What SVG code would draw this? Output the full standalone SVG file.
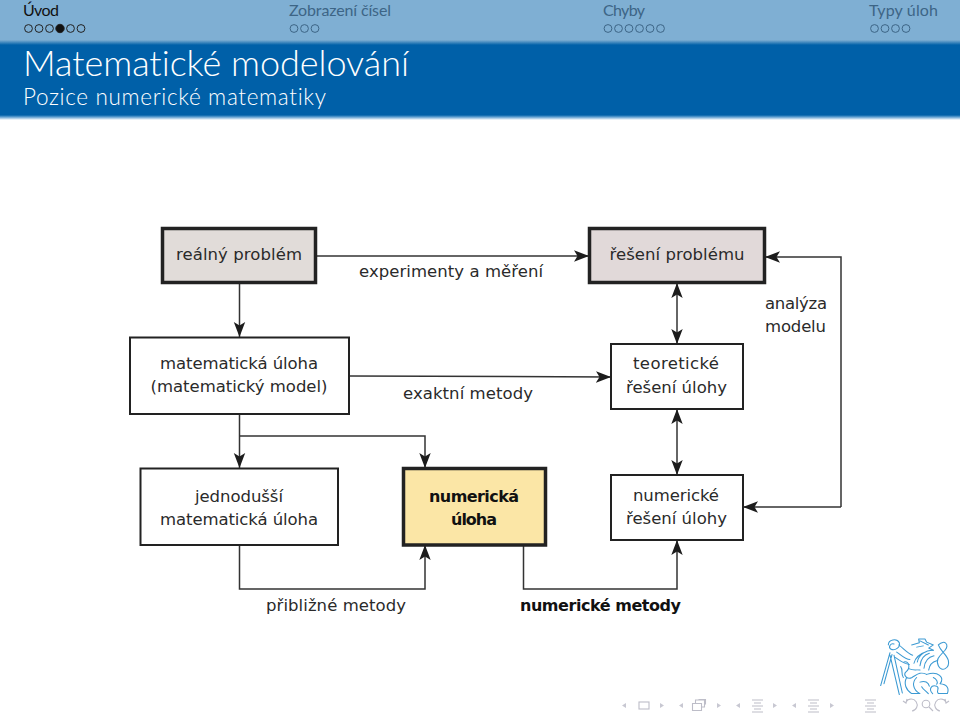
<svg xmlns="http://www.w3.org/2000/svg" width="960" height="716" viewBox="0 0 960 716">
<style>
text{font-variant-ligatures:none}
.t{font-family:"DejaVu Sans",sans-serif;font-size:16.5px;fill:#2a2a2a;text-anchor:middle}
.b{font-weight:bold;font-size:16px;fill:#111}
.l{text-anchor:start}
.box{fill:#fff;stroke:#222;stroke-width:2}
.thick{stroke-width:3.5}
.c{fill:none;stroke:#333;stroke-width:1.5}
.h{font-family:"Lato","Open Sans",sans-serif}
.nav{font-size:16px;fill:#3d6586}
.dot{fill:none;stroke:#3d6586;stroke-width:1}
.logo{fill:none;stroke:#3c9ad3;stroke-width:3.2;stroke-linecap:round;stroke-linejoin:round}
.ni{fill:none;stroke:#bdbdc8;stroke-width:1.1}
.nf{fill:#c8c8d2}
</style>
<defs>
<linearGradient id="g1" x1="0" y1="0" x2="0" y2="1"><stop offset="0" stop-color="#7fafd3"/><stop offset="1" stop-color="#0060a8"/></linearGradient>
<linearGradient id="g2" x1="0" y1="0" x2="0" y2="1"><stop offset="0" stop-color="#0060a8"/><stop offset=".4" stop-color="#5f9fd0"/><stop offset="1" stop-color="#fff"/></linearGradient>
<marker id="a" markerUnits="userSpaceOnUse" markerWidth="16" markerHeight="16" refX="15" refY="8" viewBox="0 0 16 16" orient="auto-start-reverse"><path d="M0,2.300 L15,8 L0,13.700 L3.500,8 Z" fill="#1c1c1c"/></marker>
</defs>
<rect width="960" height="716" fill="#fff"/>
<g id="header">
<rect width="960" height="40" fill="#7fafd3"/>
<rect y="40" width="960" height="5" fill="url(#g1)"/>
<rect y="45" width="960" height="70" fill="#0060a8"/>
<rect y="115" width="960" height="5" fill="url(#g2)"/>
<text class="h" x="23" y="16" font-size="16" fill="#111" textLength="36">Úvod</text>
<text class="h nav" x="289" y="16" textLength="102">Zobrazení čísel</text>
<text class="h nav" x="603" y="16" textLength="42">Chyby</text>
<text class="h nav" x="869" y="16" textLength="69">Typy úloh</text>
<g class="dot" style="stroke:#222"><circle cx="28.5" cy="28.5" r="3.9"/><circle cx="39" cy="28.5" r="3.9"/><circle cx="49.5" cy="28.5" r="3.9"/><circle cx="60" cy="28.5" r="4.2" fill="#111"/><circle cx="70.5" cy="28.5" r="3.9"/><circle cx="81" cy="28.500" r="3.9"/></g>
<g class="dot"><circle cx="294" cy="28.5" r="3.9"/><circle cx="304.5" cy="28.5" r="3.9"/><circle cx="315" cy="28.5" r="3.9"/>
<circle cx="608" cy="28.5" r="3.9"/><circle cx="618.5" cy="28.5" r="3.9"/><circle cx="629" cy="28.5" r="3.9"/><circle cx="639.5" cy="28.5" r="3.9"/><circle cx="650" cy="28.5" r="3.9"/><circle cx="660.5" cy="28.5" r="3.9"/>
<circle cx="874.5" cy="28.5" r="3.9"/><circle cx="885" cy="28.5" r="3.9"/><circle cx="895.5" cy="28.5" r="3.9"/><circle cx="906" cy="28.5" r="3.9"/></g>
<text class="h" x="23" y="76" font-size="36" font-weight="300" fill="#fff" textLength="386">Matematické modelování</text>
<text class="h" x="23" y="105" font-size="22.500" font-weight="300" fill="#fff" textLength="303">Pozice numerické matematiky</text>
</g>
<g id="connectors">
<path class="c" d="M316,256H589" marker-end="url(#a)"/>
<path class="c" d="M239.5,283V337" marker-end="url(#a)"/>
<path class="c" d="M349,376L611,377" marker-end="url(#a)"/>
<path class="c" d="M677,283V344" marker-start="url(#a)" marker-end="url(#a)"/>
<path class="c" d="M677,409V475" marker-start="url(#a)" marker-end="url(#a)"/>
<path class="c" d="M841,507V257H765" marker-end="url(#a)"/>
<path class="c" d="M841,507H743" marker-end="url(#a)"/>
<path class="c" d="M239.5,414V468" marker-end="url(#a)"/>
<path class="c" d="M239.5,436H425V468" marker-end="url(#a)"/>
<path class="c" d="M239.5,545V589H425V545" marker-end="url(#a)"/>
<path class="c" d="M523.5,545V589H677V540" marker-end="url(#a)"/>
</g>
<g id="realny-problem"><rect class="box thick" x="162.5" y="228.5" width="153" height="54" style="fill:#e1dcd9"/><text class="t" x="239" y="260" textLength="126">reálný problém</text></g>
<g id="reseni-problemu"><rect class="box thick" x="589.5" y="228.5" width="175" height="54" style="fill:#e1d9d9"/><text class="t" x="677" y="260" textLength="135">řešení problému</text></g>
<g id="matematicka-uloha"><rect class="box" x="130" y="337.5" width="219" height="76.5"/><text class="t" x="239" y="369" textLength="158">matematická úloha</text><text class="t" x="239" y="392" textLength="177">(matematický model)</text></g>
<g id="teoreticke-reseni"><rect class="box" x="611" y="344" width="132" height="65"/><text class="t" x="676" y="369" textLength="86">teoretické</text><text class="t" x="676.5" y="393" textLength="101">řešení úlohy</text></g>
<g id="jednodussi-uloha"><rect class="box" x="140.5" y="468.5" width="197.5" height="76.5"/><text class="t" x="239" y="502" textLength="88">jednodušší</text><text class="t" x="239" y="525" textLength="158">matematická úloha</text></g>
<g id="numericka-uloha"><rect class="box thick" x="403.5" y="468.5" width="142" height="76.5" style="fill:#fbe6a6"/><text class="t b" x="474" y="502" textLength="90">numerická</text><text class="t b" x="474" y="525" textLength="46">úloha</text></g>
<g id="numericke-reseni"><rect class="box" x="611" y="475" width="132" height="65"/><text class="t" x="676" y="501" textLength="86">numerické</text><text class="t" x="676.5" y="524" textLength="101">řešení úlohy</text></g>
<g id="labels">
<text class="t l" x="359" y="277" textLength="184">experimenty a měření</text>
<text class="t l" x="403" y="399" textLength="130">exaktní metody</text>
<text class="t l" x="765" y="309" textLength="62">analýza</text>
<text class="t l" x="765" y="332" textLength="61">modelu</text>
<text class="t l" x="266" y="611" textLength="140">přibližné metody</text>
<text class="t b l" x="520" y="611" textLength="161">numerické metody</text>
</g>
<g id="logo" transform="translate(870,631) scale(.3333,.31)" class="logo">
<path d="M32,176L60,70M42,170L66,76M60,78L88,205M72,78L97,200"/>
<path d="M55,45C55,28 80,22 88,38C92,52 75,66 62,58C54,52 62,38 72,42"/>
<path d="M86,45C100,55 112,72 128,78M80,68C92,76 104,92 120,92M75,85C90,95 100,105 118,108"/>
<path d="M125,45L148,38L146,26L165,26L170,36L190,45L176,55L190,62M140,52L160,48M150,32L175,45"/>
<path d="M190,62C165,62 145,78 142,100M178,72C160,78 152,92 150,112M192,80C174,84 164,100 162,120M200,96C186,100 178,112 176,126M170,66C152,72 136,86 132,104"/>
<path d="M205,45C225,25 238,45 225,62C212,78 195,90 205,112C215,135 240,120 235,95C230,75 212,66 205,45"/>
<path d="M102,100C118,95 122,120 108,132C98,142 112,158 126,150C142,140 150,130 170,140M118,122C130,128 138,124 150,126M92,115C100,125 92,140 100,150"/>
<path d="M170,140C205,128 225,150 210,170C232,172 238,185 232,202H205C196,192 212,185 200,178C182,172 176,190 188,202M140,150C125,165 128,190 150,202H125C108,190 100,170 110,150M150,165C165,160 175,165 178,178M155,180C160,190 170,195 175,202M190,150C200,155 205,165 200,172"/>
</g>
<g id="nav-symbols">
<path class="nf" d="M626,703V708L622,705.500ZM660,703V708L664,705.500ZM683,703V708L679,705.500ZM717,703V708L721,705.500ZM740,703V708L736,705.500ZM773,703V708L777,705.500ZM796,703V708L792,705.500ZM830,703V708L834,705.500Z"/>
<rect class="ni" x="639" y="702" width="10" height="7"/>
<path class="ni" d="M692.500,703.500h9v7h-9zM695.500,703v-3h9v7h-3M698.500,699.500h7v5"/>
<path class="ni" d="M752,700h11M754,703h7M752,706h11M754,709h7M752,712h11M808,700h11M810,703h7M808,706h11M810,709h7M808,712h11M865,700h11M867,703h7M865,706h11M867,709h7M865,712h11"/>
<path class="ni" d="M912,711a6,6 0 1 0 -6,-9M903,701l3,2l1,-4M940,711a6,6 0 1 1 6,-9M949,701l-3,2l-1,-4"/>
<circle class="ni" cx="926" cy="704" r="3.800"/><path class="ni" d="M929,707l4,4"/>
</g>
</svg>
